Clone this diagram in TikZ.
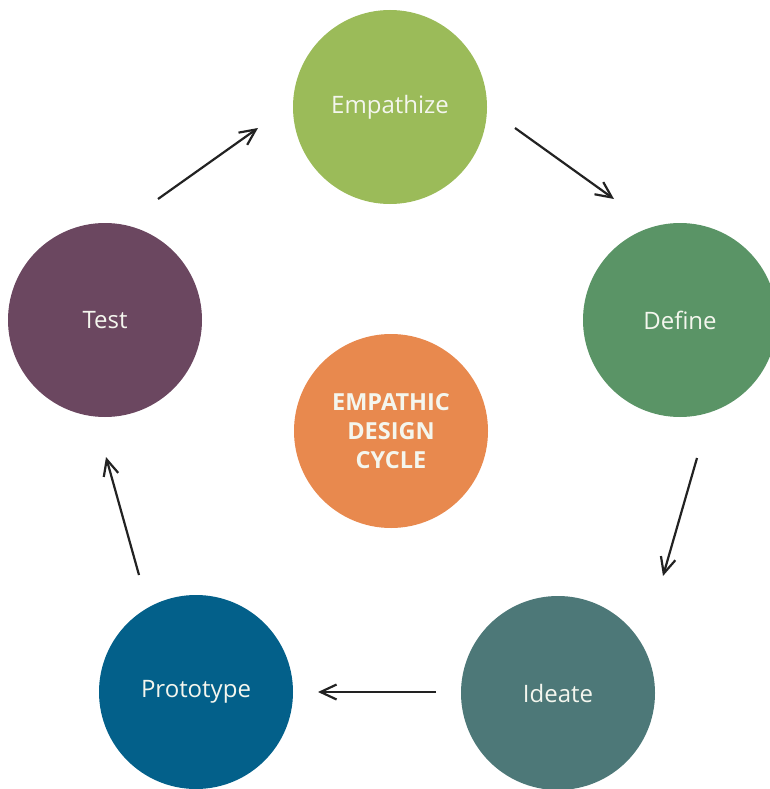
\documentclass[tikz,border=0pt]{standalone}
\usepackage{fontspec}
\setmainfont{Open Sans}
\usetikzlibrary{arrows.meta}
\definecolor{cEmp}{HTML}{9BBB59}
\definecolor{cDef}{HTML}{5A9466}
\definecolor{cIde}{HTML}{4D7878}
\definecolor{cPro}{HTML}{03608A}
\definecolor{cTst}{HTML}{6B4760}
\definecolor{cCtr}{HTML}{E8894E}
\definecolor{cArr}{HTML}{222222}
\definecolor{cTxt}{HTML}{F4F6EE}
\tikzset{
  stage/.style={circle, inner sep=0pt, minimum size=194pt, text=cTxt,
    font=\fontsize{24}{29}\selectfont},
  core/.style={stage, font=\fontsize{23.5}{29}\selectfont\bfseries, align=center},
  arr/.style={draw=cArr, line width=2.2pt,
    -{Straight Barb[length=16pt,width=15pt,line width=2.2pt]}},
}
\begin{document}
\begin{tikzpicture}[x=1pt,y=-1pt]
\useasboundingbox (0,0) rectangle (769,789);
\node[stage, fill=cEmp] (emp) at (390,107) {Empathize};
\node[stage, fill=cDef] (def) at (680,320) {Define};
\node[stage, fill=cIde] (ide) at (558,693) {Ideate};
\node[stage, fill=cPro] (pro) at (196,692) {Prototype};
\node[stage, fill=cTst] (tst) at (105,320) {Test};
\node[core, fill=cCtr] (ctr) at (391,431) {EMPATHIC\\DESIGN\\CYCLE};
% arrow end points
\coordinate (a1s) at (515,128);
\coordinate (a1e) at (614,199);
\coordinate (a2s) at (697,458);
\coordinate (a2e) at (663,576);
\coordinate (a3s) at (436,692);
\coordinate (a3e) at (318,692);
\coordinate (a4s) at (139,575);
\coordinate (a4e) at (106,457);
\coordinate (a5s) at (158,199);
\coordinate (a5e) at (258,128);
\draw[arr] (a1s) -- (a1e);
\draw[arr] (a2s) -- (a2e);
\draw[arr] (a3s) -- (a3e);
\draw[arr] (a4s) -- (a4e);
\draw[arr] (a5s) -- (a5e);
\end{tikzpicture}
\end{document}
